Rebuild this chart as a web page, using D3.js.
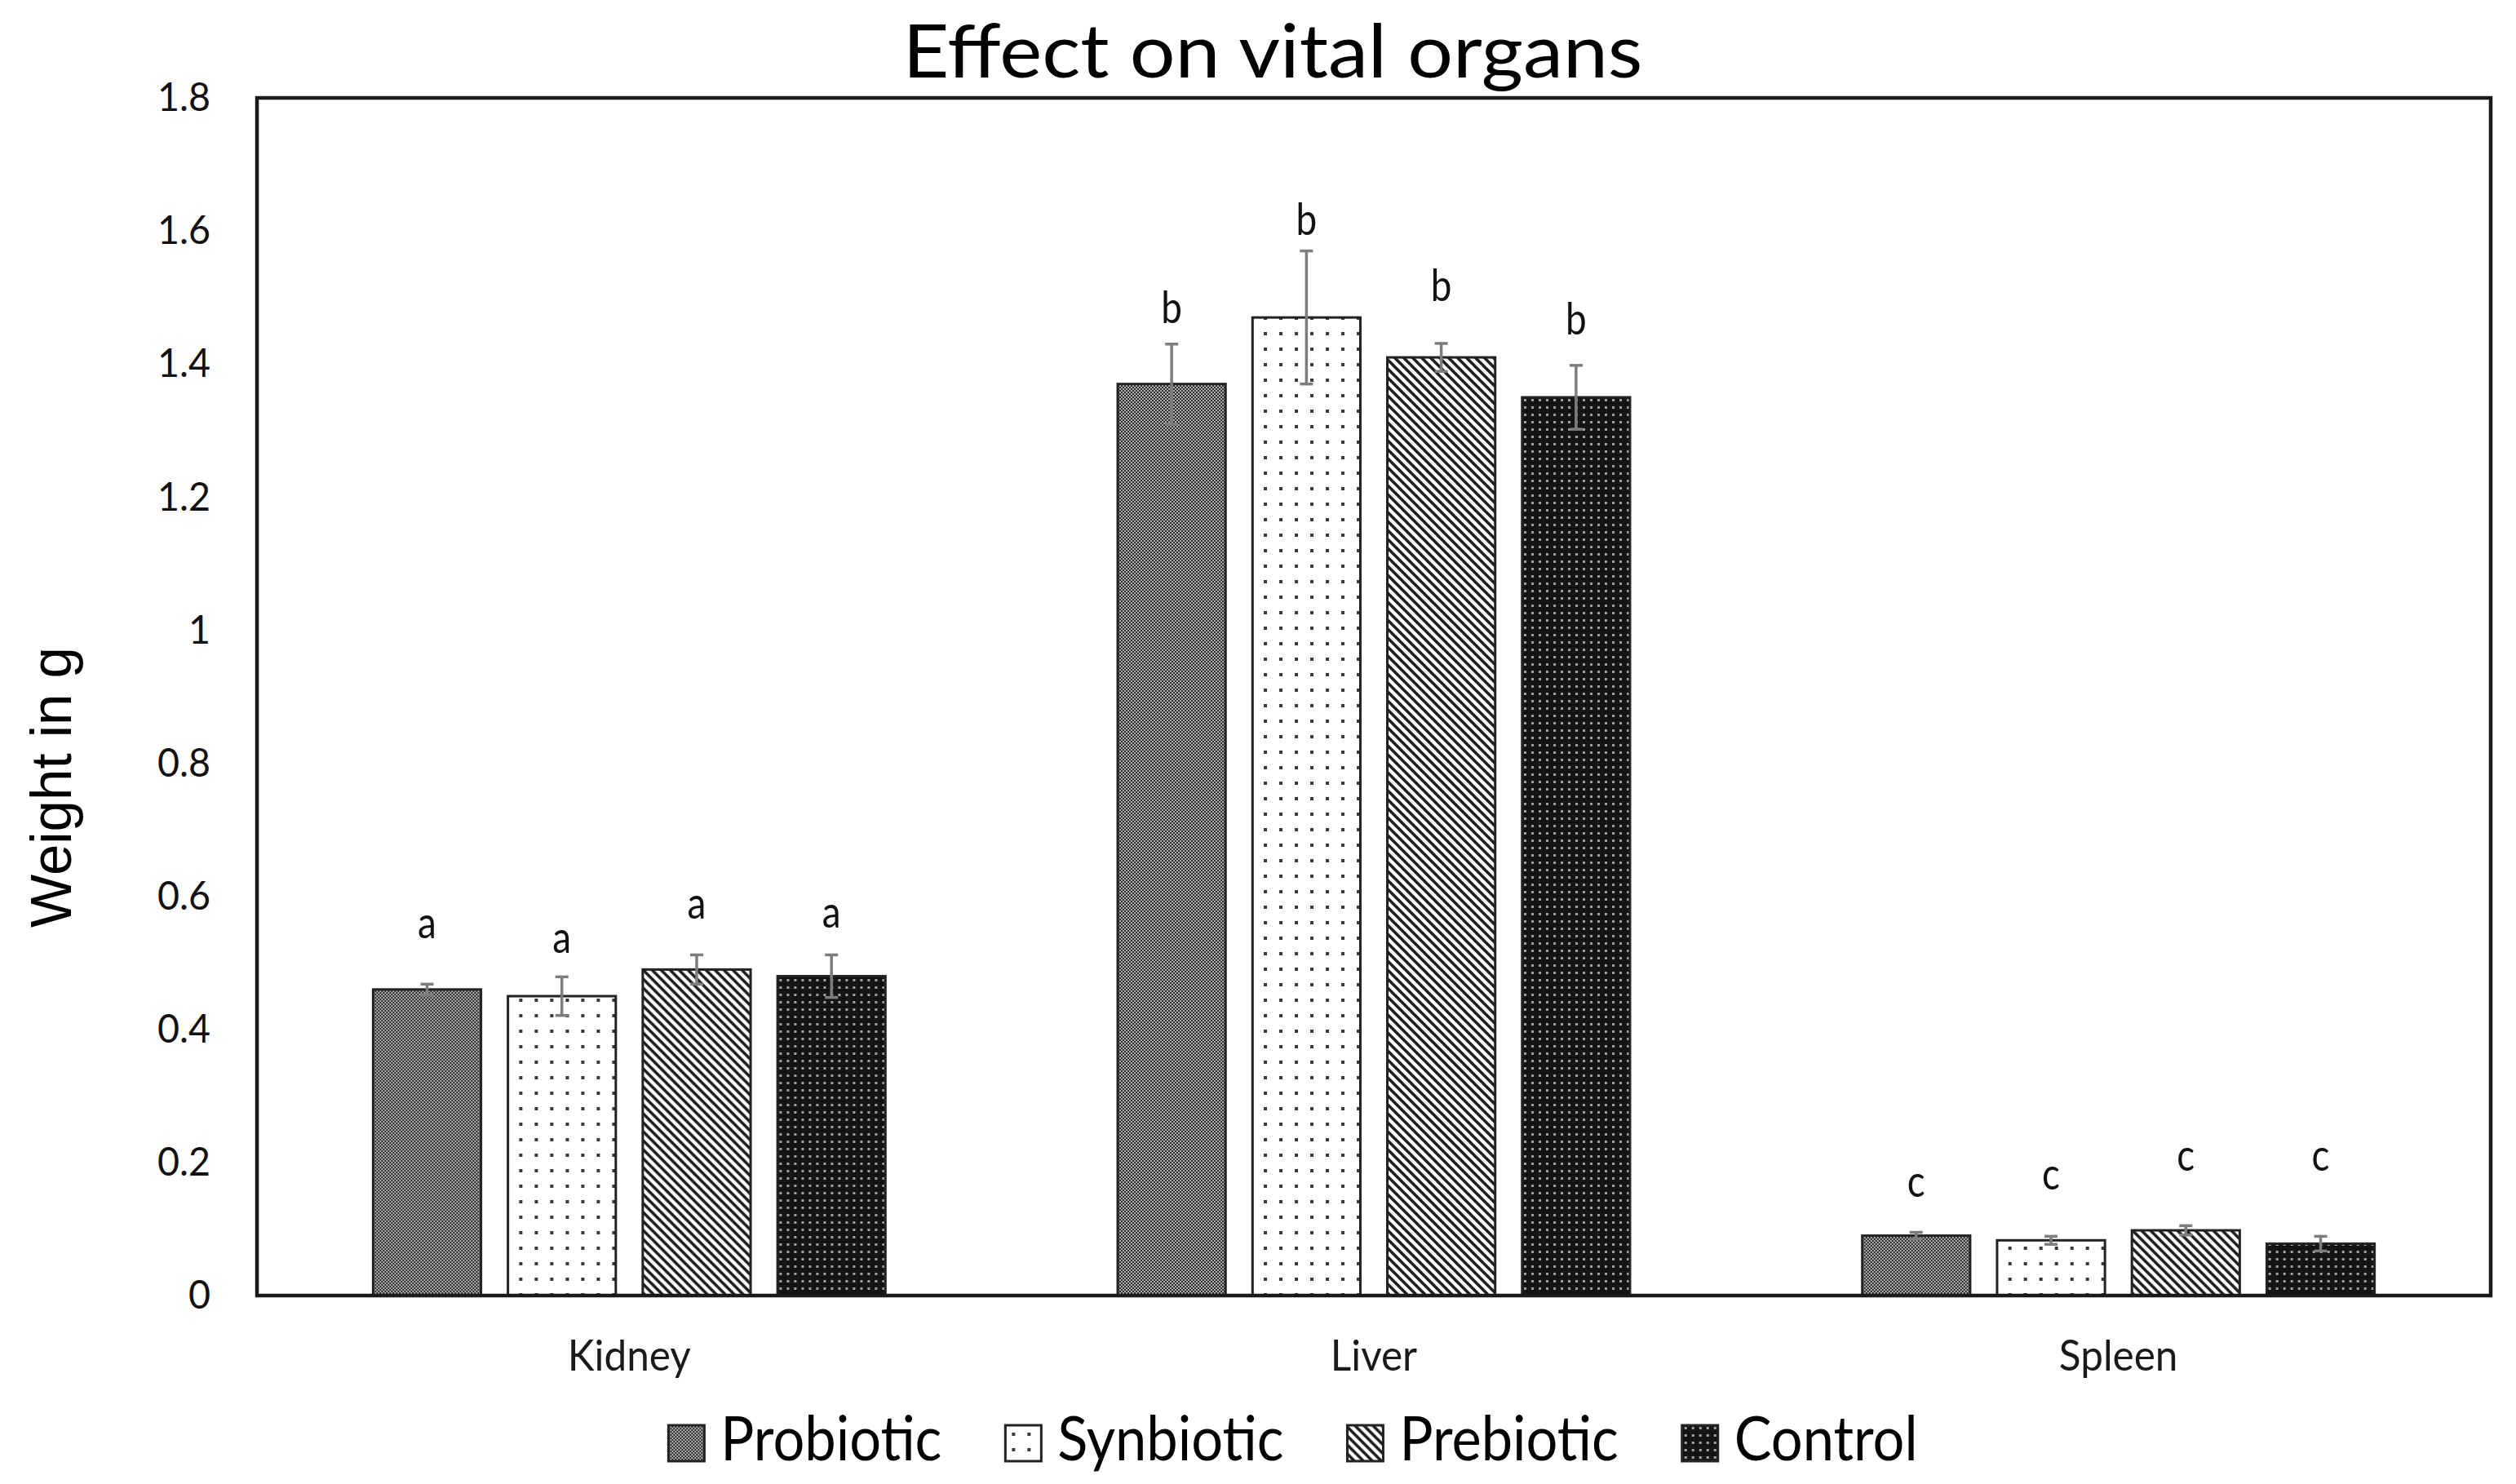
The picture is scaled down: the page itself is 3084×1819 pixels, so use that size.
<!DOCTYPE html>
<html><head><meta charset="utf-8">
<script src="https://cdn.jsdelivr.net/npm/d3@7"></script>
<style>html,body{margin:0;padding:0;background:#fff;} svg{display:block;}</style>
</head><body>
<svg id="chart" width="3084" height="1819"></svg>
<script>
// ---------- data ----------
const organs = ["Kidney", "Liver", "Spleen"];
const seriesNames = ["Probiotic", "Synbiotic", "Prebiotic", "Control"];
const probiotic = [0.46, 1.37, 0.09];
const synbiotic = [0.45, 1.47, 0.083];
const prebiotic = [0.49, 1.41, 0.098];
const control = [0.48, 1.35, 0.078];
const probioticErr = [0.008, 0.06, 0.005];
const synbioticErr = [0.029, 0.10, 0.006];
const prebioticErr = [0.022, 0.021, 0.007];
const controlErr = [0.032, 0.048, 0.011];
const organLetters = ["a", "b", "c"];
const probioticLetterAt = [0.537, 1.462, 0.148];
const synbioticLetterAt = [0.515, 1.594, 0.160];
const prebioticLetterAt = [0.567, 1.495, 0.187];
const controlLetterAt = [0.553, 1.445, 0.187];
const yTicks = [0, 0.2, 0.4, 0.6, 0.8, 1, 1.2, 1.4, 1.6, 1.8];
const titleText = "Effect on vital organs";
const yLabelText = "Weight in g";

// ---------- build rows ----------
const valuesBySeries = [probiotic, synbiotic, prebiotic, control];
const errBySeries = [probioticErr, synbioticErr, prebioticErr, controlErr];
const letterBySeries = [probioticLetterAt, synbioticLetterAt, prebioticLetterAt, controlLetterAt];
const rows = [];
organs.forEach((o, i) => {
  seriesNames.forEach((s, j) => {
    rows.push({organ: o, series: s, si: j, value: valuesBySeries[j][i],
      err: errBySeries[j][i], letter: organLetters[i], letterAt: letterBySeries[j][i]});
  });
});

// ---------- layout ----------
const W = 3084, H = 1819;
const plot = {left: 315, top: 120, right: 3053, bottom: 1588};
const svg = d3.select("#chart");
svg.append("rect").attr("width", W).attr("height", H).attr("fill", "#fff");

const LATO = "Lato, 'Open Sans', sans-serif";

function condense(sel, factor) {
  sel.each(function () {
    const w = this.getComputedTextLength();
    this.setAttribute("textLength", (w * factor).toFixed(1));
    this.setAttribute("lengthAdjust", "spacingAndGlyphs");
  });
}
function fitFactor(sel, target) {
  const w = sel.node().getComputedTextLength();
  return target / w;
}

// ---------- patterns ----------
const defs = svg.append("defs");
const pProb = defs.append("pattern").attr("id", "pat0").attr("patternUnits", "userSpaceOnUse")
  .attr("width", 4).attr("height", 4);
pProb.append("rect").attr("width", 4).attr("height", 4).attr("fill", "#b2b2b2");
pProb.append("rect").attr("x", 0).attr("y", 0).attr("width", 2).attr("height", 2).attr("fill", "#2a2a2a");
pProb.append("rect").attr("x", 2).attr("y", 2).attr("width", 2).attr("height", 2).attr("fill", "#2a2a2a");

const pSyn = defs.append("pattern").attr("id", "pat1").attr("patternUnits", "userSpaceOnUse")
  .attr("width", 19).attr("height", 19);
pSyn.append("rect").attr("width", 19).attr("height", 19).attr("fill", "#fff");
pSyn.append("rect").attr("x", 8).attr("y", 8).attr("width", 4).attr("height", 4).attr("fill", "#3a3a3a");

const pPre = defs.append("pattern").attr("id", "pat2").attr("patternUnits", "userSpaceOnUse")
  .attr("width", 11).attr("height", 11);
pPre.append("rect").attr("width", 11).attr("height", 11).attr("fill", "#fff");
pPre.append("path").attr("d", "M-1,-1 L12,12 M-5.5,5.5 L5.5,16.5 M5.5,-5.5 L16.5,5.5")
  .attr("stroke", "#1e1e1e").attr("stroke-width", 3.6);

const pCon = defs.append("pattern").attr("id", "pat3").attr("patternUnits", "userSpaceOnUse")
  .attr("width", 9).attr("height", 9);
pCon.append("rect").attr("width", 9).attr("height", 9).attr("fill", "#141414");
pCon.append("rect").attr("x", 3).attr("y", 3).attr("width", 3).attr("height", 3).attr("fill", "#a0a0a0");

// ---------- scales ----------
const x0 = d3.scaleBand().domain(organs).range([plot.left, plot.right])
  .paddingInner(0.312).paddingOuter(0.156);
const x1 = d3.scaleBand().domain(seriesNames).range([0, x0.bandwidth()])
  .paddingInner(0.2).paddingOuter(0);
const y = d3.scaleLinear().domain([0, 1.8]).range([plot.bottom, plot.top]);

// ---------- y axis ----------
const yAxis = svg.append("g").attr("transform", `translate(${plot.left},0)`)
  .call(d3.axisLeft(y).tickValues(yTicks).tickSize(0).tickPadding(57)
    .tickFormat(d => String(+d.toFixed(1))));
yAxis.select(".domain").remove();
yAxis.selectAll("text").attr("font-family", LATO).attr("font-size", 49).attr("fill", "#111");
const tickF = fitFactor(yAxis.selectAll("text").filter(d => d === 1.8), 65);
condense(yAxis.selectAll("text"), tickF);

// ---------- bars ----------
const groups = svg.append("g").selectAll("g").data(organs).join("g")
  .attr("transform", d => `translate(${x0(d)},0)`);

groups.selectAll("rect.bar").data(o => rows.filter(r => r.organ === o)).join("rect")
  .attr("class", "bar")
  .attr("x", d => x1(d.series))
  .attr("y", d => y(d.value))
  .attr("width", x1.bandwidth())
  .attr("height", d => y(0) - y(d.value))
  .attr("fill", d => `url(#pat${d.si})`)
  .attr("stroke", "#222").attr("stroke-width", 3);

// error bars
const capW = 16;
const eb = groups.selectAll("g.err").data(o => rows.filter(r => r.organ === o)).join("g").attr("class", "err")
  .attr("stroke", "#7d7d7d").attr("stroke-width", 3.5);
eb.append("line")
  .attr("x1", d => x1(d.series) + x1.bandwidth() / 2).attr("x2", d => x1(d.series) + x1.bandwidth() / 2)
  .attr("y1", d => y(d.value - d.err)).attr("y2", d => y(d.value + d.err));
eb.append("line")
  .attr("x1", d => x1(d.series) + x1.bandwidth() / 2 - capW / 2).attr("x2", d => x1(d.series) + x1.bandwidth() / 2 + capW / 2)
  .attr("y1", d => y(d.value + d.err)).attr("y2", d => y(d.value + d.err));
eb.append("line")
  .attr("x1", d => x1(d.series) + x1.bandwidth() / 2 - capW / 2).attr("x2", d => x1(d.series) + x1.bandwidth() / 2 + capW / 2)
  .attr("y1", d => y(d.value - d.err)).attr("y2", d => y(d.value - d.err));

// significance letters
const letters = groups.selectAll("text.sig").data(o => rows.filter(r => r.organ === o)).join("text")
  .attr("class", "sig")
  .attr("x", d => x1(d.series) + x1.bandwidth() / 2)
  .attr("y", d => y(d.letterAt))
  .attr("text-anchor", "middle")
  .attr("font-family", LATO).attr("font-size", 54).attr("fill", "#111")
  .text(d => d.letter);
condense(letters, 0.85);

// ---------- frame ----------
svg.append("rect").attr("x", plot.left).attr("y", plot.top)
  .attr("width", plot.right - plot.left).attr("height", plot.bottom - plot.top)
  .attr("fill", "none").attr("stroke", "#1a1a1a").attr("stroke-width", 4.5);

// ---------- x labels ----------
const xl = svg.append("g").selectAll("text").data(organs).join("text")
  .attr("x", d => x0(d) + x0.bandwidth() / 2)
  .attr("y", 1680)
  .attr("text-anchor", "middle")
  .attr("font-family", LATO).attr("font-size", 52).attr("fill", "#1a1a1a")
  .text(d => d);
const xlF = fitFactor(xl.filter(d => d === "Kidney"), 151);
condense(xl, xlF);

// ---------- title ----------
const title = svg.append("text").attr("x", 1560).attr("y", 95)
  .attr("text-anchor", "middle")
  .attr("font-family", LATO).attr("font-size", 92).attr("fill", "#000")
  .text(titleText);
condense(title, fitFactor(title, 907));

// ---------- y label ----------
const yl = svg.append("text").attr("transform", "translate(87,965) rotate(-90)")
  .attr("text-anchor", "middle")
  .attr("font-family", "'Liberation Sans', Arial, sans-serif").attr("font-size", 70).attr("fill", "#000")
  .text(yLabelText);
condense(yl, fitFactor(yl, 344));

// ---------- legend ----------
const legend = svg.append("g");
const items = legend.selectAll("g").data(seriesNames).join("g");
items.append("rect").attr("width", 44).attr("height", 44).attr("y", 1747)
  .attr("fill", (d, i) => `url(#pat${i})`).attr("stroke", "#222").attr("stroke-width", 3);
const ltxt = items.append("text").attr("x", 64).attr("y", 1790)
  .attr("font-family", LATO).attr("font-size", 76).attr("fill", "#000")
  .text(d => d);
condense(ltxt, fitFactor(ltxt.filter(d => d === "Probiotic"), 271));
const widths = [];
ltxt.each(function () { widths.push(64 + +this.getAttribute("textLength")); });
const gap = 78;
const total = d3.sum(widths) + gap * (widths.length - 1);
let start = 1585 - total / 2;
items.attr("transform", (d, i) => {
  const t = `translate(${start},0)`;
  start += widths[i] + gap;
  return t;
});
</script>
</body></html>
